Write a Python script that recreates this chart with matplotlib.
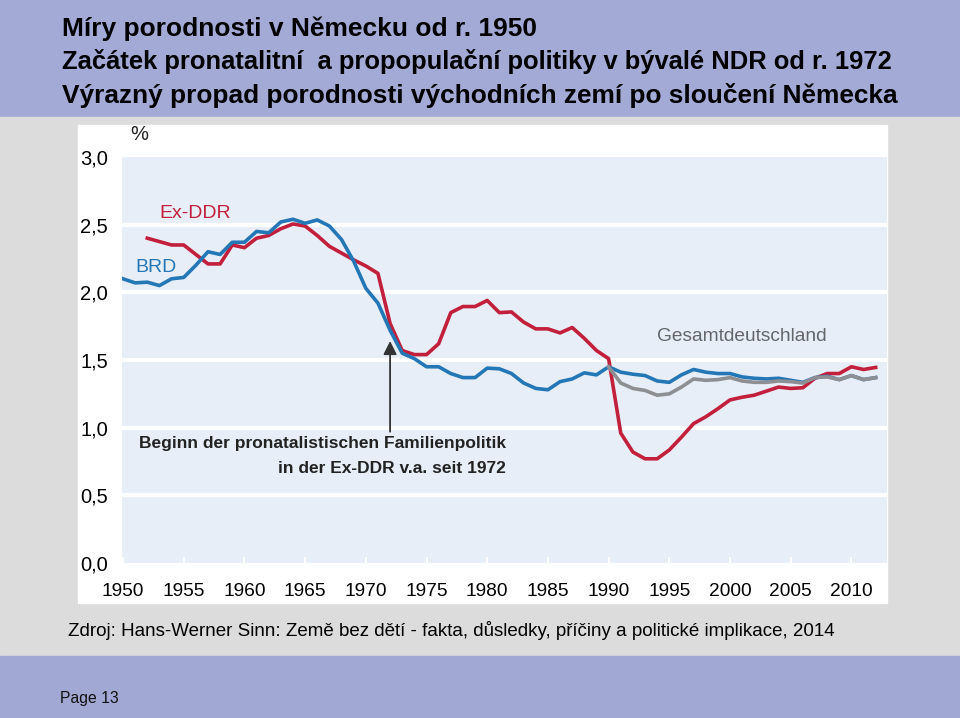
import matplotlib
matplotlib.use("Agg")
import matplotlib.pyplot as plt
from matplotlib.patches import Rectangle

plt.rcParams['font.family'] = ['Liberation Sans', 'DejaVu Sans']

# ---------------- data ----------------
years_brd = list(range(1950, 2013))
brd = [2.10, 2.07, 2.075, 2.05, 2.10, 2.11, 2.20, 2.30, 2.28, 2.37,
       2.37, 2.45, 2.44, 2.52, 2.54, 2.51, 2.535, 2.49, 2.39, 2.23,
       2.03, 1.92, 1.72, 1.55, 1.51, 1.45, 1.45, 1.40, 1.37, 1.37,
       1.44, 1.435, 1.40, 1.33, 1.29, 1.28, 1.34, 1.36, 1.405, 1.39,
       1.45, 1.41, 1.395, 1.385, 1.345, 1.335, 1.39, 1.43, 1.41, 1.40,
       1.40, 1.375, 1.365, 1.36, 1.365, 1.35, 1.335, 1.37, 1.38, 1.355,
       1.385, 1.355, 1.37]

years_ddr = list(range(1952, 2013))
ddr = [2.40, 2.375, 2.35, 2.35, 2.28, 2.21, 2.21, 2.35,
       2.33, 2.40, 2.42, 2.47, 2.505, 2.49, 2.42, 2.34, 2.29, 2.24,
       2.195, 2.14, 1.77, 1.57, 1.54, 1.54, 1.62, 1.85, 1.895, 1.895,
       1.94, 1.85, 1.855, 1.78, 1.73, 1.73, 1.70, 1.74, 1.66, 1.57,
       1.51, 0.96, 0.82, 0.77, 0.77, 0.835, 0.93, 1.03, 1.08, 1.14,
       1.205, 1.225, 1.24, 1.27, 1.30, 1.29, 1.295, 1.365, 1.40, 1.40,
       1.45, 1.43, 1.445]

years_ges = list(range(1990, 2013))
ges = [1.45, 1.33, 1.29, 1.275, 1.24, 1.25, 1.30, 1.36, 1.35, 1.355,
       1.37, 1.345, 1.335, 1.335, 1.345, 1.34, 1.33, 1.37, 1.375, 1.355,
       1.385, 1.355, 1.37]

yticks = [0.0, 0.5, 1.0, 1.5, 2.0, 2.5, 3.0]
ytick_labels = ["0,0", "0,5", "1,0", "1,5", "2,0", "2,5", "3,0"]
xticks = list(range(1950, 2011, 5))

title_lines = ["Míry porodnosti v Německu od r. 1950",
               "Začátek pronatalitní  a propopulační politiky v bývalé NDR od r. 1972",
               "Výrazný propad porodnosti východních zemí po sloučení Německa"]
source = "Zdroj: Hans-Werner Sinn: Země bez dětí - fakta, důsledky, příčiny a politické implikace, 2014"

# ---------------- figure ----------------
W, H = 960, 718
fig = plt.figure(figsize=(W / 100, H / 100), dpi=100)

def fr(x0, y0, x1, y1, color):
    fig.patches.append(Rectangle((x0 / W, 1 - y1 / H), (x1 - x0) / W, (y1 - y0) / H,
                                 transform=fig.transFigure, color=color, zorder=-10))

fr(0, 0, W, 117, "#a3aad6")
fr(0, 117, W, 656, "#dcdcdc")
fr(0, 656, W, H, "#a1a8d4")
fr(78, 125, 887, 603, "white")

title_sizes = [19.0, 18.35, 18.9]
title_y = [28, 61, 95]
for t, fs, yy in zip(title_lines, title_sizes, title_y):
    fig.text(62 / W, 1 - (yy + 1) / H, t, fontsize=fs, fontweight='bold',
             color='black', ha='left', va='center')

fig.text(68 / W, 1 - 630 / H, source, fontsize=13.5, color='black', ha='left', va='center')
fig.text(60 / W, 1 - 699 / H, "Page 13", fontsize=11.3, color='#111111', ha='left', va='center')
fig.text(130 / W, 1 - 135 / H, "%", fontsize=14.5, color='#222222', ha='left', va='center')

# axes
x_left, x_right = 121.8, 886.6
y_top, y_bot = 157, 563
ax = fig.add_axes([x_left / W, 1 - y_bot / H, (x_right - x_left) / W, (y_bot - y_top) / H])
ax.set_zorder(2)
ax.set_facecolor("#e8eef7")
ax.set_xlim(1949.9, 2012.9)
ax.set_ylim(0, 3.0)
for s in ax.spines.values():
    s.set_visible(False)

for v in yticks[1:-1]:
    ax.axhline(v, color='white', lw=3, zorder=1)

ax.set_yticks(yticks)
ax.set_yticklabels(ytick_labels, fontsize=14.5)
ax.tick_params(axis='y', length=0, pad=10)
ax.set_xticks(xticks)
ax.set_xticklabels([str(x) for x in xticks], fontsize=13.8)
ax.tick_params(axis='x', direction='in', length=4, width=1.5, color='white', pad=14.5)

blue = "#2477b6"
red = "#c21f3c"
grey = "#8d8f92"

ax.plot(years_ddr, ddr, color=red, lw=2.6, zorder=3, solid_joinstyle='round')
ax.plot(years_brd, brd, color=blue, lw=2.6, zorder=4, solid_joinstyle='round')
ax.plot(years_ges, ges, color=grey, lw=2.6, zorder=5, solid_joinstyle='round')

ax.text(1953.0, 2.585, "Ex-DDR", color=red, fontsize=14, ha='left', va='center')
ax.text(1951.0, 2.185, "BRD", color=blue, fontsize=14, ha='left', va='center')
ax.text(1994.0, 1.67, "Gesamtdeutschland", color="#63666b", fontsize=13.8, ha='left', va='center')

ax.annotate("", xy=(1972, 1.64), xytext=(1972, 0.97),
            arrowprops=dict(arrowstyle='-|>', color='#333333', lw=1.3,
                            mutation_scale=20, shrinkA=0, shrinkB=0), zorder=6)
ax.text(1981.55, 0.88, "Beginn der pronatalistischen Familienpolitik", fontsize=12.5,
        fontweight='bold', color='#222222', ha='right', va='center')
ax.text(1981.55, 0.695, "in der Ex-DDR v.a. seit 1972", fontsize=12.5,
        fontweight='bold', color='#222222', ha='right', va='center')

fig.savefig("out.png", dpi=100)
